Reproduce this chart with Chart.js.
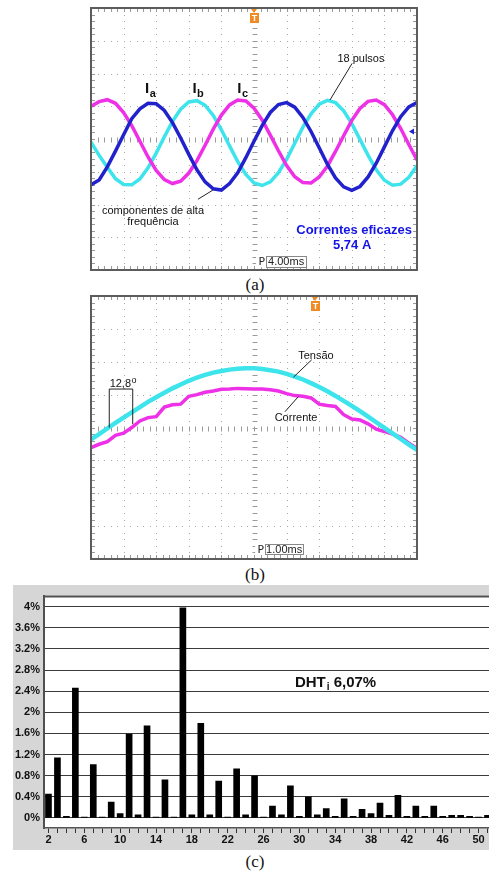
<!DOCTYPE html>
<html>
<head>
<meta charset="utf-8">
<script src="https://cdn.jsdelivr.net/npm/chart.js@4.4.1/dist/chart.umd.min.js"></script>
<style>
html, body { margin: 0; padding: 0; background: #fff; width: 489px; height: 872px; overflow: hidden; position: relative; }
canvas { position: absolute; }
.cap { position: absolute; left: 0; width: 510px; text-align: center; font: 17px "Liberation Serif", "Times New Roman", serif; color: #111; line-height: 18px; }
#grayC { position: absolute; left: 13px; top: 585px; width: 476px; height: 265px; background: #d6d6d6; }
</style>
</head>
<body>
<canvas id="scopeA" width="330" height="266" style="left:89px;top:6px"></canvas>
<div class="cap" style="top:276px">(a)</div>
<canvas id="scopeB" width="330" height="267" style="left:89px;top:294px"></canvas>
<div class="cap" style="top:566px">(b)</div>
<div id="grayC"></div>
<canvas id="harmC" width="479" height="265" style="left:13px;top:585px"></canvas>
<div class="cap" style="top:853px">(c)</div>

<script>
// Sample instants in screen divisions (a: 4 ms/div, b: 1 ms/div)
const divs = [0, 0.25, 0.5, 0.75, 1, 1.25, 1.5, 1.75, 2, 2.25, 2.5, 2.75, 3, 3.25, 3.5, 3.75, 4, 4.25, 4.5, 4.75,
    5, 5.25, 5.5, 5.75, 6, 6.25, 6.5, 6.75, 7, 7.25, 7.5, 7.75, 8, 8.25, 8.5, 8.75, 9, 9.25, 9.5, 9.75, 10];

// (a) phase currents, in vertical divisions
const iaTrace = [-1.40, -1.25, -0.85, -0.37, 0.13, 0.62, 0.92, 1.09, 1.08, 0.87, 0.50, 0.03, -0.47, -0.94, -1.31, -1.52, -1.56, -1.36, -1.03, -0.57,
    -0.07, 0.41, 0.81, 1.05, 1.11, 0.97, 0.66, 0.23, -0.27, -0.77, -1.19, -1.46, -1.57, -1.45, -1.16, -0.74, -0.24, 0.26, 0.68, 0.98, 1.11];
const ibTrace = [-0.10, -0.50, -0.86, -1.21, -1.39, -1.40, -1.22, -0.88, -0.43, 0.07, 0.54, 0.91, 1.13, 1.17, 1.03, 0.72, 0.28, -0.21, -0.69, -1.08,
    -1.34, -1.42, -1.31, -1.03, -0.62, -0.13, 0.36, 0.77, 1.06, 1.18, 1.11, 0.86, 0.47, -0.01, -0.50, -0.94, -1.26, -1.41, -1.38, -1.17, -0.82];
const icTrace = [1.00, 1.14, 1.20, 1.09, 0.81, 0.41, -0.07, -0.55, -0.96, -1.24, -1.36, -1.29, -1.04, -0.66, -0.19, 0.30, 0.73, 1.04, 1.19, 1.16,
    0.94, 0.58, 0.12, -0.36, -0.81, -1.15, -1.33, -1.34, -1.16, -0.83, -0.38, 0.10, 0.57, 0.93, 1.15, 1.19, 1.05, 0.74, 0.32, -0.17, -0.64];

// (b) voltage and current
const tensaoTrace = [-0.36, -0.20, -0.03, 0.14, 0.30, 0.46, 0.62, 0.78, 0.92, 1.06, 1.19, 1.31, 1.42, 1.52, 1.60, 1.67, 1.72, 1.76, 1.79, 1.80,
    1.80, 1.78, 1.74, 1.70, 1.63, 1.55, 1.46, 1.35, 1.23, 1.10, 0.96, 0.81, 0.66, 0.50, 0.33, 0.16, -0.01, -0.18, -0.35, -0.52, -0.68];
const correnteTrace = [-0.61, -0.51, -0.43, -0.24, -0.17, 0.00, 0.20, 0.30, 0.33, 0.62, 0.69, 0.71, 0.95, 1.00, 1.07, 1.11, 1.16, 1.17, 1.19, 1.18,
    1.17, 1.17, 1.15, 1.11, 1.03, 0.97, 0.95, 0.90, 0.71, 0.67, 0.64, 0.39, 0.26, 0.23, 0.11, -0.05, -0.12, -0.20, -0.30, -0.48, -0.63];

// (c) harmonic spectrum of the current, % of fundamental
const harmonics = [2, 3, 4, 5, 6, 7, 8, 9, 10, 11, 12, 13, 14, 15, 16, 17, 18, 19, 20, 21, 22, 23, 24, 25, 26,
    27, 28, 29, 30, 31, 32, 33, 34, 35, 36, 37, 38, 39, 40, 41, 42, 43, 44, 45, 46, 47, 48, 49, 50, 51];
const harmValues = [0.45, 1.14, 0.03, 2.46, 0.015, 1.01, 0.015, 0.30, 0.085, 1.59, 0.06, 1.745, 0.015, 0.72, 0.015, 3.98, 0.06, 1.79, 0.06, 0.70, 0.015, 0.93, 0.06, 0.80, 0.015,
    0.225, 0.06, 0.61, 0.03, 0.40, 0.06, 0.18, 0.03, 0.36, 0.03, 0.165, 0.085, 0.28, 0.05, 0.43, 0.03, 0.225, 0.03, 0.225, 0.03, 0.05, 0.05, 0.03, 0.015, 0.05];
const percentTicks = [0, 0.4, 0.8, 1.2, 1.6, 2, 2.4, 2.8, 3.2, 3.6, 4];

const MAGENTA = '#ee30e6';
const BLUE = '#2222cc';
const CYAN = '#3ee4ec';

function toPoints(trace) {
    return divs.map((d, i) => ({ x: d, y: trace[i] }));
}

// Oscilloscope screen: dotted graticule, frame, markers and labels
const scopeScreen = {
    id: 'scopeScreen',
    beforeDatasetsDraw(chart) {
        const { ctx, chartArea: a, scales: { x, y } } = chart;
        ctx.save();
        ctx.fillStyle = '#a8a8a8';
        for (let d = 1; d < 10; d++) {
            const px = Math.round(x.getPixelForValue(d));
            for (let s = 0; s <= 40; s++) {
                ctx.fillRect(px, Math.round(y.getPixelForValue(-4 + s * 0.2)), 1, 1);
            }
        }
        for (let v = -3; v <= 3; v++) {
            const py = Math.round(y.getPixelForValue(v));
            for (let s = 0; s <= 50; s++) {
                ctx.fillRect(Math.round(x.getPixelForValue(s * 0.2)), py, 1, 1);
            }
        }
        // minor ticks on centre lines and frame
        ctx.strokeStyle = '#9a9a9a';
        ctx.lineWidth = 1;
        ctx.beginPath();
        const cx = Math.round(x.getPixelForValue(5)) + 0.5;
        const cy = Math.round(y.getPixelForValue(0)) + 0.5;
        for (let s = 1; s < 40; s++) {
            const py = Math.round(y.getPixelForValue(-4 + s * 0.2)) + 0.5;
            ctx.moveTo(cx - 2, py); ctx.lineTo(cx + 3, py);
            ctx.moveTo(a.left, py); ctx.lineTo(a.left + 4, py);
            ctx.moveTo(a.right - 4, py); ctx.lineTo(a.right, py);
        }
        for (let s = 1; s < 50; s++) {
            const px = Math.round(x.getPixelForValue(s * 0.2)) + 0.5;
            ctx.moveTo(px, cy - 2); ctx.lineTo(px, cy + 3);
            ctx.moveTo(px, a.top); ctx.lineTo(px, a.top + 4);
            ctx.moveTo(px, a.bottom - 4); ctx.lineTo(px, a.bottom);
        }
        ctx.stroke();
        ctx.restore();
    },
    afterDatasetsDraw(chart, args, opts) {
        const { ctx, chartArea: a, scales: { x, y } } = chart;
        ctx.save();
        ctx.strokeStyle = '#5c5c5c';
        ctx.lineWidth = 2;
        ctx.strokeRect(a.left, a.top, a.right - a.left, a.bottom - a.top);

        // trigger marker
        const tx = Math.round(x.getPixelForValue(opts.trigger));
        ctx.fillStyle = '#f08a24';
        ctx.beginPath();
        ctx.moveTo(tx - 3, a.top + 1); ctx.lineTo(tx + 3, a.top + 1); ctx.lineTo(tx, a.top + 5);
        ctx.fill();
        ctx.fillRect(tx - 4, a.top + 5, 9, 10);
        ctx.fillStyle = '#fff';
        ctx.font = 'bold 9px "Liberation Sans", Arial, sans-serif';
        ctx.textAlign = 'center';
        ctx.textBaseline = 'middle';
        ctx.fillText('T', tx + 0.5, a.top + 10.5);

        if (opts.arrow !== undefined) {
            const ay = y.getPixelForValue(opts.arrow);
            ctx.fillStyle = BLUE;
            ctx.beginPath();
            ctx.moveTo(a.right - 8, ay); ctx.lineTo(a.right - 3, ay - 3); ctx.lineTo(a.right - 3, ay + 3);
            ctx.fill();
        }

        // leader lines and brackets
        ctx.strokeStyle = '#222';
        ctx.lineWidth = 1;
        (opts.lines || []).forEach(pts => {
            ctx.beginPath();
            pts.forEach((p, i) => {
                const px = x.getPixelForValue(p[0]), py = y.getPixelForValue(p[1]);
                if (i === 0) ctx.moveTo(px, py); else ctx.lineTo(px, py);
            });
            ctx.stroke();
        });

        // timebase box
        const bx0 = x.getPixelForValue(opts.timebase.from), bx1 = x.getPixelForValue(opts.timebase.to);
        const by0 = y.getPixelForValue(opts.timebase.top), by1 = y.getPixelForValue(opts.timebase.bottom);
        ctx.fillStyle = '#fff';
        ctx.fillRect(bx0 - 10, by0, bx1 - bx0 + 10, by1 - by0);
        ctx.strokeStyle = '#888';
        ctx.strokeRect(Math.round(bx0) + 0.5, Math.round(by0) + 0.5, Math.round(bx1 - bx0), Math.round(by1 - by0));
        ctx.fillStyle = '#222';
        ctx.font = '11px "DejaVu Sans Mono", monospace';
        ctx.textBaseline = 'middle';
        ctx.textAlign = 'right';
        ctx.fillText('P', bx0 - 1, (by0 + by1) / 2 + 0.5);
        ctx.textAlign = 'center';
        ctx.font = '11px "Liberation Sans", Arial, sans-serif';
        ctx.fillText(opts.timebase.text, (bx0 + bx1) / 2, (by0 + by1) / 2 + 0.5);

        // text labels
        (opts.labels || []).forEach(l => {
            const px = x.getPixelForValue(l.d), py = y.getPixelForValue(l.v);
            ctx.font = l.font;
            ctx.fillStyle = l.color || '#111';
            ctx.textAlign = l.align || 'center';
            ctx.textBaseline = 'middle';
            ctx.fillText(l.text, px, py);
            if (l.sub) {
                const w = ctx.measureText(l.text).width;
                const left = l.align === 'left' ? px + w : px + w / 2;
                ctx.font = l.subFont;
                ctx.textAlign = 'left';
                ctx.fillText(l.sub, left + 0.5, py + l.subDy);
            }
        });
        ctx.restore();
    }
};

function traceSet(trace, color, width) {
    return {
        data: toPoints(trace),
        borderColor: color,
        borderWidth: width,
        pointRadius: 0,
        tension: 0,
        fill: false
    };
}

function makeScope(id, datasets, screen) {
    return new Chart(document.getElementById(id), {
        type: 'line',
        data: { datasets },
        options: {
            responsive: false,
            animation: false,
            events: [],
            layout: { padding: 2 },
            scales: {
                x: { type: 'linear', min: 0, max: 10, display: false },
                y: { type: 'linear', min: -4, max: 4, display: false }
            },
            plugins: {
                legend: { display: false },
                tooltip: { enabled: false },
                scopeScreen: screen
            }
        },
        plugins: [scopeScreen]
    });
}

const small = '11px "Liberation Sans", Arial, sans-serif';
const bigBold = 'bold 15px "Liberation Sans", Arial, sans-serif';
const subBold = 'bold 11px "Liberation Sans", Arial, sans-serif';
const blueBold = 'bold 13px "Liberation Sans", Arial, sans-serif';

// (a) three phase currents
makeScope('scopeA', [
    traceSet(iaTrace, BLUE, 3.5),
    traceSet(icTrace, MAGENTA, 3.5),
    traceSet(ibTrace, CYAN, 3.5)
], {
    trigger: 5.0,
    arrow: 0.23,
    timebase: { text: '4.00ms', from: 5.37, to: 6.6, top: -3.58, bottom: -3.92 },
    lines: [
        [[8.01, 2.31], [7.33, 1.19]],
        [[3.28, -1.84], [3.74, -1.56]]
    ],
    labels: [
        { text: 'I', sub: 'a', d: 1.66, v: 1.52, align: 'left', font: bigBold, subFont: subBold, subDy: 5 },
        { text: 'I', sub: 'b', d: 3.11, v: 1.52, align: 'left', font: bigBold, subFont: subBold, subDy: 5 },
        { text: 'I', sub: 'c', d: 4.49, v: 1.52, align: 'left', font: bigBold, subFont: subBold, subDy: 5 },
        { text: '18 pulsos', d: 8.28, v: 2.44, font: small },
        { text: 'componentes de alta', d: 1.9, v: -2.2, font: small },
        { text: 'frequência', d: 1.9, v: -2.53, font: small },
        { text: 'Correntes eficazes', d: 8.07, v: -2.79, font: blueBold, color: '#1414e6' },
        { text: '5,74 A', d: 8.01, v: -3.25, font: blueBold, color: '#1414e6' }
    ]
});

// (b) voltage and current of one phase
makeScope('scopeB', [
    traceSet(tensaoTrace, CYAN, 4.5),
    traceSet(correnteTrace, MAGENTA, 3.5)
], {
    trigger: 6.87,
    timebase: { text: '1.00ms', from: 5.34, to: 6.51, top: -3.55, bottom: -3.86 },
    lines: [
        [[0.56, 0.0], [0.56, 1.17], [1.28, 1.17], [1.28, 0.1]],
        [[6.77, 2.06], [6.21, 1.53]],
        [[5.95, 0.48], [6.36, 0.94]]
    ],
    labels: [
        { text: '12,8', sub: 'o', d: 0.9, v: 1.32, font: small, subFont: '9px "Liberation Sans", Arial, sans-serif', subDy: -4 },
        { text: 'Tensão', d: 6.9, v: 2.18, font: small },
        { text: 'Corrente', d: 6.29, v: 0.29, font: small }
    ]
});

// (c) harmonic bar chart
const spectrumFrame = {
    id: 'spectrumFrame',
    beforeDraw(chart) {
        const { ctx, chartArea: a } = chart;
        ctx.save();
        ctx.fillStyle = '#fff';
        ctx.fillRect(a.left, a.top, a.right - a.left, a.bottom - a.top);
        ctx.restore();
    },
    afterDatasetsDraw(chart) {
        const { ctx, chartArea: a, scales: { x, y } } = chart;
        ctx.save();
        ctx.strokeStyle = '#505050';
        ctx.lineWidth = 2;
        ctx.beginPath();
        ctx.moveTo(a.left, a.top + 1);
        ctx.lineTo(a.right, a.top + 1);
        ctx.stroke();
        // DHT annotation
        const px = x.getPixelForValue(harmonics.indexOf(29) + 0.5);
        const py = y.getPixelForValue(2.565);
        ctx.fillStyle = '#111';
        ctx.textBaseline = 'middle';
        ctx.textAlign = 'left';
        ctx.font = 'bold 15px "Liberation Sans", Arial, sans-serif';
        ctx.fillText('DHT', px, py);
        let w = ctx.measureText('DHT').width;
        ctx.font = 'bold 10px "Liberation Sans", Arial, sans-serif';
        ctx.fillText('i', px + w + 1, py + 5);
        w += ctx.measureText('i').width + 1;
        ctx.font = 'bold 15px "Liberation Sans", Arial, sans-serif';
        ctx.fillText(' 6,07%', px + w, py);
        ctx.restore();
    }
};

new Chart(document.getElementById('harmC'), {
    type: 'bar',
    data: {
        labels: harmonics,
        datasets: [{
            data: harmValues,
            backgroundColor: '#000',
            borderWidth: 0,
            barThickness: 6
        }]
    },
    options: {
        responsive: false,
        animation: false,
        events: [],
        layout: { padding: { top: 2, left: 0, right: 0, bottom: 0 } },
        scales: {
            x: {
                offset: true,
                grid: { display: true, drawOnChartArea: false, offset: false, tickLength: 5, color: '#333' },
                border: { display: true, color: '#555', width: 1.5 },
                ticks: {
                    autoSkip: false,
                    maxRotation: 0,
                    padding: 0,
                    color: '#111',
                    font: { family: '"Liberation Sans", Arial, sans-serif', size: 11, weight: 'bold' },
                    callback: (val, i) => (harmonics[i] - 2) % 4 === 0 ? String(harmonics[i]) : ''
                },
                afterFit: s => { s.height = 22; }
            },
            y: {
                min: -0.19,
                max: 4.21,
                grid: { color: '#3a3a3a', lineWidth: 1, drawTicks: false },
                border: { display: true, color: '#505050', width: 2 },
                afterBuildTicks: s => { s.ticks = percentTicks.map(v => ({ value: v })); },
                ticks: {
                    padding: 4,
                    color: '#111',
                    font: { family: '"Liberation Sans", Arial, sans-serif', size: 11, weight: 'bold' },
                    callback: v => `${+v.toFixed(1)}%`
                },
                afterFit: s => { s.width = 31; }
            }
        },
        plugins: {
            legend: { display: false },
            tooltip: { enabled: false }
        }
    },
    plugins: [spectrumFrame]
});
</script>
</body>
</html>
